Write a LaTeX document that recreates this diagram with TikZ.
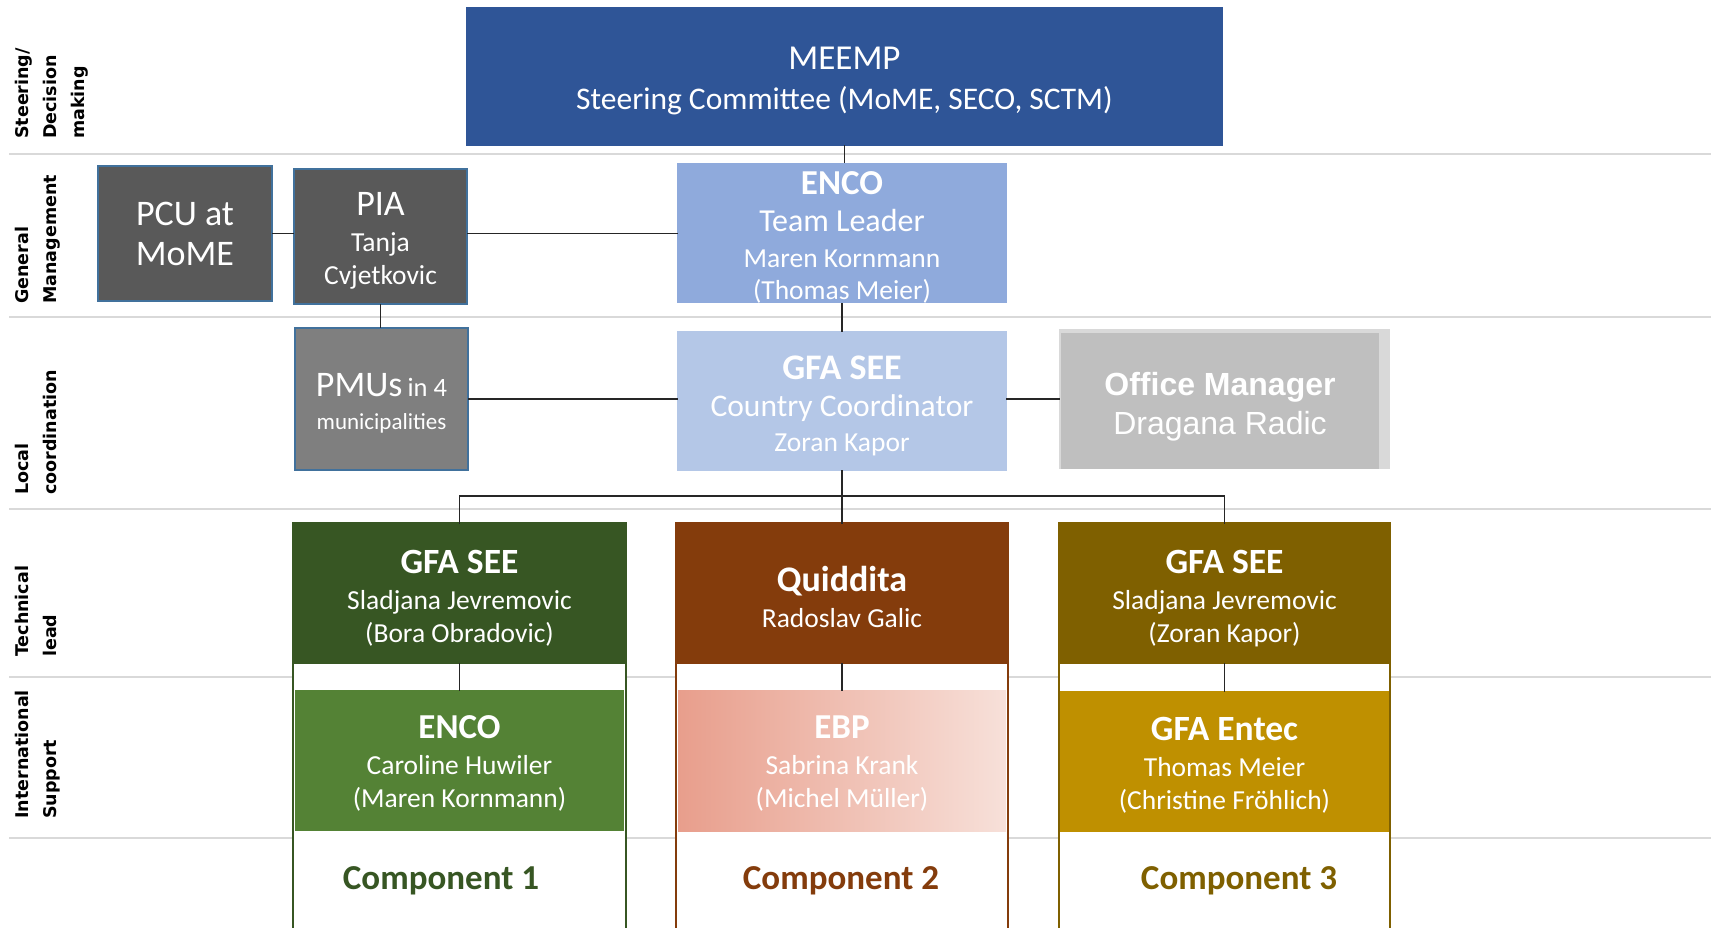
\documentclass[tikz,border=0pt]{standalone}
\usepackage{fontspec}
\usepackage{tikz}
\newfontfamily\calibrifont{Carlito}
\newfontfamily\arialfont{Liberation Sans}
\newfontfamily\verdanafont{DejaVu Sans}

\begin{document}
\begin{tikzpicture}[x=1pt,y=-1pt,line cap=rect]
	\def\toppad#1{\rule{0pt}{#1pt}} % pushes the text block down in its box
	\definecolor{col_meemp}{RGB}{47,85,151}
	\definecolor{col_encotl}{RGB}{143,170,220}
	\definecolor{col_gfacc}{RGB}{180,199,231}
	\definecolor{col_dark}{RGB}{89,89,89}
	\definecolor{col_pmu}{RGB}{127,127,127}
	\definecolor{col_edge}{RGB}{65,113,156}
	\definecolor{col_office}{RGB}{191,191,191}
	\definecolor{col_officebg}{RGB}{217,217,217}
	\definecolor{col_tech1}{RGB}{55,86,35}
	\definecolor{col_tech2}{RGB}{132,60,12}
	\definecolor{col_tech3}{RGB}{127,96,0}
	\definecolor{col_intl1}{RGB}{84,130,53}
	\definecolor{col_intl3}{RGB}{191,144,0}
	\definecolor{col_ebpL}{RGB}{232,158,140}
	\definecolor{col_ebpR}{RGB}{247,224,217}
	\definecolor{col_sep}{RGB}{217,217,217}
	\definecolor{col_link}{RGB}{38,38,38}
	\tikzset{
		orgbox/.style={rectangle, inner sep=0pt, align=center, text=white, font=\calibrifont\fontsize{27}{33}\selectfont},
		framedbox/.style={orgbox, draw=col_edge, line width=1.5pt},
		link/.style={draw=col_link, line width=1.6pt},
		sepline/.style={draw=col_sep, line width=2pt},
		lane/.style={rotate=90, anchor=north west, inner sep=0pt, align=left, font=\verdanafont\bfseries\fontsize{17.5}{28}\selectfont},
		column/.style={fill=white, line width=2pt},
		complabel/.style={inner sep=0pt, font=\calibrifont\bfseries\fontsize{35}{35}\selectfont}
	}
	\useasboundingbox (0,0) rectangle (1712,928);
	% lanes
	\foreach \y in {154,317,509,677,838}
		\draw[sepline] (10,\y) -- (1710,\y);
	\node[lane] (laneA) at (15,139) {Steering/\\Decision\\making};
	\node[lane] (laneB) at (15,304) {General\\Management};
	\node[lane] (laneC) at (15,495) {Local\\coordination};
	\node[lane] (laneD) at (15,657) {Technical\\lead};
	\node[lane] (laneE) at (15,819) {International\\Support};
	% component columns
	\draw[column, draw=col_tech1] (293,523) rectangle (626,945);
	\draw[column, draw=col_tech2] (676,523) rectangle (1008,945);
	\draw[column, draw=col_tech3] (1059,523) rectangle (1390,945);
	% steering and management
	\node[orgbox, fill=col_meemp, minimum width=757, minimum height=139, font=\calibrifont\fontsize{31.5}{40}\selectfont] (meemp) at (844.5,76.5) {\toppad{31}{\fontsize{35}{35}\selectfont MEEMP}\\Steering Committee (MoME, SECO, SCTM)};
	\node[framedbox, fill=col_dark, minimum width=174, minimum height=135, font=\calibrifont\fontsize{36}{40}\selectfont] (pcu) at (185,233.5) {PCU at\\MoME};
	\node[framedbox, fill=col_dark, minimum width=173, minimum height=135, font=\calibrifont\fontsize{27.5}{33}\selectfont] (pia) at (380.5,236.5) {\toppad{32}{\fontsize{36}{36}\selectfont PIA}\\[3pt]Tanja\\Cvjetkovic};
	\node[orgbox, fill=col_encotl, minimum width=330, minimum height=138, font=\calibrifont\fontsize{27.5}{32}\selectfont] (encotl) at (842,233) {\toppad{32}{\bfseries\fontsize{35}{35}\selectfont ENCO}\\[5pt]{\fontsize{32}{32}\selectfont Team Leader}\\[4pt]Maren Kornmann\\(Thomas Meier)};
	% local coordination
	\node[framedbox, fill=col_pmu, minimum width=173, minimum height=142, font=\calibrifont\fontsize{23}{33}\selectfont] (pmu) at (381.5,399) {\toppad{32}{\fontsize{36}{36}\selectfont PMUs} {\fontsize{26.5}{26.5}\selectfont in 4}\\municipalities};
	\node[orgbox, fill=col_gfacc, minimum width=330, minimum height=140, font=\calibrifont\fontsize{27.5}{32}\selectfont] (gfacc) at (842,401) {\toppad{33}{\bfseries\fontsize{36}{36}\selectfont GFA SEE}\\[5pt]{\fontsize{31.5}{31.5}\selectfont Country Coordinator}\\[3pt]Zoran Kapor};
	\node[orgbox, fill=col_officebg, minimum width=331, minimum height=140] (officebg) at (1224.5,399) {};
	\node[orgbox, fill=col_office, minimum width=318, minimum height=136, font=\arialfont\fontsize{32}{39}\selectfont] (office) at (1220,401) {\toppad{34}{\bfseries Office Manager}\\Dragana Radic};
	% technical lead
	\node[orgbox, fill=col_tech1, minimum width=333, minimum height=141, font=\calibrifont\fontsize{27.5}{33}\selectfont] (tech1) at (459.5,593.5) {\toppad{33}{\bfseries\fontsize{35.5}{35.5}\selectfont GFA SEE}\\[3pt]Sladjana Jevremovic\\(Bora Obradovic)};
	\node[orgbox, fill=col_tech2, minimum width=332, minimum height=141, font=\calibrifont\fontsize{27.5}{36}\selectfont] (tech2) at (842,593.5) {\toppad{32}{\bfseries\fontsize{36}{36}\selectfont Quiddita}\\Radoslav Galic};
	\node[orgbox, fill=col_tech3, minimum width=331, minimum height=141, font=\calibrifont\fontsize{27.5}{33}\selectfont] (tech3) at (1224.5,593.5) {\toppad{33}{\bfseries\fontsize{35.5}{35.5}\selectfont GFA SEE}\\[3pt]Sladjana Jevremovic\\(Zoran Kapor)};
	% international support
	\node[orgbox, fill=col_intl1, minimum width=329, minimum height=141, font=\calibrifont\fontsize{27.5}{33}\selectfont] (intl1) at (459.5,760.5) {\toppad{29.5}{\bfseries\fontsize{35}{35}\selectfont ENCO}\\[3pt]Caroline Huwiler\\(Maren Kornmann)};
	\node[orgbox, left color=col_ebpL, right color=col_ebpR, minimum width=328, minimum height=141, font=\calibrifont\fontsize{27.5}{33}\selectfont] (intl2) at (842,760.5) {\toppad{29.5}{\bfseries\fontsize{35}{35}\selectfont EBP}\\[3pt]Sabrina Krank\\(Michel M\"uller)};
	\node[orgbox, fill=col_intl3, minimum width=329, minimum height=141, font=\calibrifont\fontsize{27.5}{33}\selectfont] (intl3) at (1224.5,761.5) {\toppad{31.5}{\bfseries\fontsize{35.5}{35.5}\selectfont GFA Entec}\\[3pt]Thomas Meier\\(Christine Fr\"ohlich)};
	\node[complabel, text=col_tech1] (comp1) at (441,881) {Component 1};
	\node[complabel, text=col_tech2] (comp2) at (841,881) {Component 2};
	\node[complabel, text=col_tech3] (comp3) at (1239,881) {Component 3};
	% connectors
	\coordinate (fork) at (842,496);
	\draw[link] (meemp.south) -- (meemp.south |- encotl.north);
	\draw[link] (pcu.east) -- (pcu.east -| pia.west);
	\draw[link] (pcu.east -| pia.east) -- (pcu.east -| encotl.west);
	\draw[link] (pia.south) -- (pia.south |- pmu.north);
	\draw[link] (encotl.south) -- (gfacc.north);
	\draw[link] (pmu.east) -- (pmu.east -| gfacc.west);
	\draw[link] (pmu.east -| gfacc.east) -- (pmu.east -| officebg.west);
	\draw[link] (gfacc.south) -- (tech2.north);
	\draw[link] (tech1.north) |- (fork) -| (tech3.north);
	\draw[link] (tech1.south) -- (intl1.north);
	\draw[link] (tech2.south) -- (intl2.north);
	\draw[link] (tech3.south) -- (intl3.north);
\end{tikzpicture}
\end{document}
